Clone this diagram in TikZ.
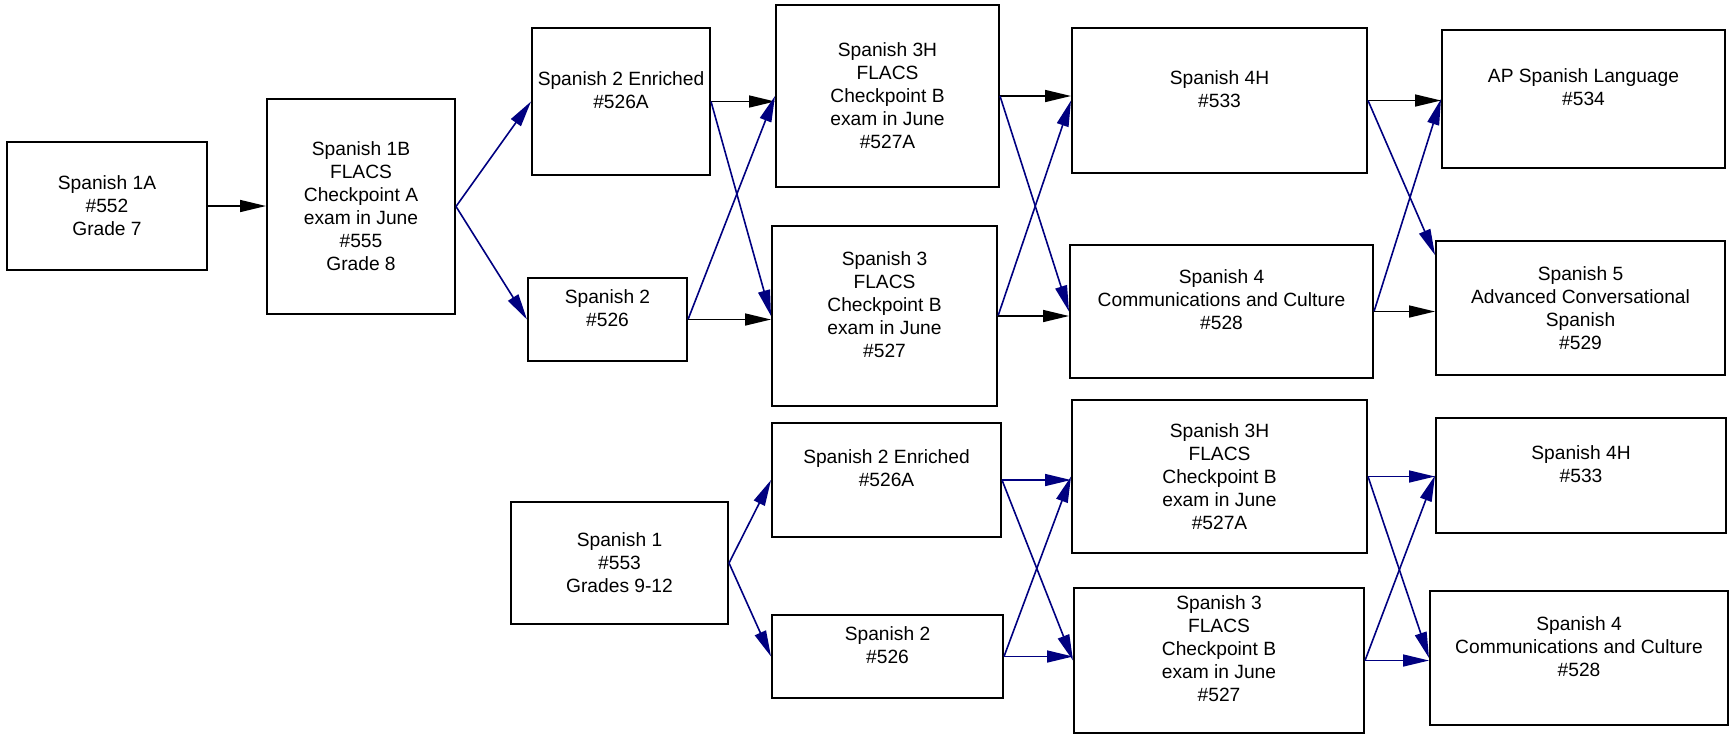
\documentclass[tikz,border=0pt]{standalone}
\usepackage{fontspec}
\setmainfont{Liberation Sans}
\usepackage{tikz}
\usetikzlibrary{arrows.meta,positioning}
\usepackage{xcolor}
\definecolor{pathblue}{RGB}{0,0,128}
\tikzstyle{course} = [draw, line width=1pt, align=center, inner sep=0pt, font=\fontsize{9.6}{11.5}\selectfont]
\tikzstyle{arrow} = [line width=0.8pt,-{Triangle[length=13pt,width=6pt]}]
\tikzstyle{bluearrow} = [arrow, color=pathblue]

\begin{document}
\begin{tikzpicture}[x=0.5pt, y=-0.5pt]
\useasboundingbox (0,0) rectangle (1732,735);

% Grade 7 / 8 start
\node[course, minimum width=100pt, minimum height=64pt] (s1a) at (107,206) {Spanish 1A\\\#552\\Grade 7};
\node[course, minimum width=94pt, minimum height=107.5pt] (s1b) at (361,206.5) {Spanish 1B\\FLACS\\Checkpoint A\\exam in June\\\#555\\Grade 8};

% Upper track
\node[course, minimum width=89pt, minimum height=73.5pt] (s2e) at (621,101.5) {Spanish 2 Enriched\\\#526A\\~};
\node[course, minimum width=79.5pt, minimum height=41.5pt] (s2) at (607.5,319.5) {Spanish 2\\\#526\\~};
\node[course, minimum width=111.5pt, minimum height=91pt] (s3h) at (887.5,96) {Spanish 3H\\FLACS\\Checkpoint B\\exam in June\\\#527A};
\node[course, minimum width=112.5pt, minimum height=90pt] (s3) at (884.5,316) {Spanish 3\\FLACS\\Checkpoint B\\exam in June\\\#527\\~};
\node[course, minimum width=147.5pt, minimum height=72.5pt] (s4h) at (1219.5,100.5) {Spanish 4H\\\#533\\~};
\node[course, minimum width=151.5pt, minimum height=66.5pt] (s4) at (1221.5,311.5) {Spanish 4\\Communications and Culture\\\#528\\~};
\node[course, minimum width=141.5pt, minimum height=69pt] (ap) at (1583.5,99) {AP Spanish Language\\\#534\\~};
\node[course, minimum width=144.5pt, minimum height=67pt] (s5) at (1580.5,308) {Spanish 5\\Advanced Conversational\\Spanish\\\#529};

% Lower track (high school start)
\node[course, minimum width=108.5pt, minimum height=61pt] (b1) at (619.5,563) {Spanish 1\\\#553\\Grades 9-12};
\node[course, minimum width=114.5pt, minimum height=57pt] (b2e) at (886.5,480) {Spanish 2 Enriched\\\#526A\\~};
\node[course, minimum width=115.5pt, minimum height=41.5pt] (b2) at (887.5,656.5) {Spanish 2\\\#526\\~};
\node[course, minimum width=147.5pt, minimum height=76.5pt] (b3h) at (1219.5,476.5) {Spanish 3H\\FLACS\\Checkpoint B\\exam in June\\\#527A};
\node[course, minimum width=145pt, minimum height=72.5pt] (b3) at (1219,660.5) {Spanish 3\\FLACS\\Checkpoint B\\exam in June\\\#527\\~};
\node[course, minimum width=145pt, minimum height=57.5pt] (b4h) at (1581,475.5) {Spanish 4H\\\#533\\~};
\node[course, minimum width=149pt, minimum height=67pt] (b4) at (1579,658) {Spanish 4\\Communications and Culture\\\#528\\~};

% Upper track arrows
\draw[arrow] (s1a.east) -- (s1a.east -| s1b.west);
\draw[bluearrow] (s1b.east) -- (s2e.west);
\draw[bluearrow] (s1b.east) -- (s2.west);
\draw[arrow] (s2e.east) -- (s2e.east -| s3h.west);
\draw[bluearrow] (s2e.east) -- (s3.west);
\draw[bluearrow] (s2.east) -- (s3h.west);
\draw[arrow] (s2.east) -- (s2.east -| s3.west);
\draw[arrow] (s3h.east) -- (s3h.east -| s4h.west);
\draw[bluearrow] (s3h.east) -- (s4.west);
\draw[bluearrow] (s3.east) -- (s4h.west);
\draw[arrow] (s3.east) -- (s3.east -| s4.west);
\draw[arrow] (s4h.east) -- (s4h.east -| ap.west);
\draw[bluearrow] (s4h.east) -- (s5.160);
\draw[bluearrow] (s4.east) -- (ap.west);
\draw[arrow] (s4.east) -- (s4.east -| s5.west);

% Lower track arrows
\draw[bluearrow] (b1.east) -- (b2e.west);
\draw[bluearrow] (b1.east) -- (b2.west);
\draw[bluearrow] (b2e.east) -- (b2e.east -| b3h.west);
\draw[bluearrow] (b2e.east) -- (b3.west);
\draw[bluearrow] (b2.east) -- (b3h.west);
\draw[bluearrow] (b2.east) -- (b2.east -| b3.west);
\draw[bluearrow] (b3h.east) -- (b3h.east -| b4h.west);
\draw[bluearrow] (b3h.east) -- (b4.west);
\draw[bluearrow] (b3.east) -- (b4h.west);
\draw[bluearrow] (b3.east) -- (b3.east -| b4.west);
\end{tikzpicture}
\end{document}
